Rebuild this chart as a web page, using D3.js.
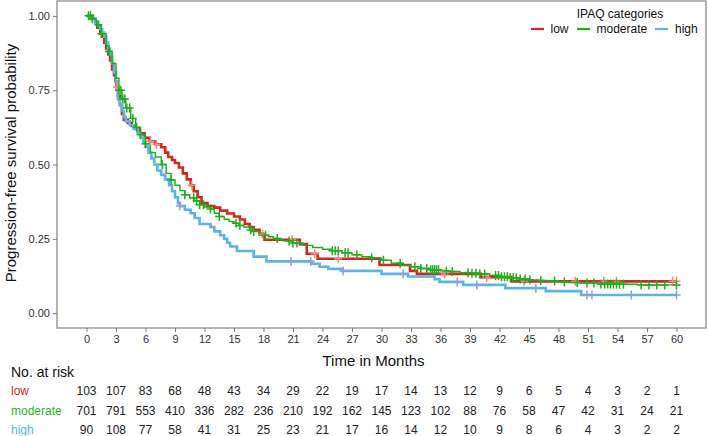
<!DOCTYPE html>
<html>
<head>
<meta charset="utf-8">
<script src="https://cdn.jsdelivr.net/npm/d3@7"></script>
<style>
  html, body { margin: 0; padding: 0; background: #fff; }
  svg { display: block; font-family: "Liberation Sans", Arial, sans-serif; }
</style>
</head>
<body>
<svg id="chart" width="708" height="436"></svg>
<script>
// ---------------- data ----------------
const groups = ["low", "moderate", "high"];
const xTicks = [0,3,6,9,12,15,18,21,24,27,30,33,36,39,42,45,48,51,54,57,60];
const yTicks = [0, 0.25, 0.5, 0.75, 1.0];

// step points [time (months), survival after step]
const lowSteps = [[0,1],[0.6,0.99],[0.9,0.98],[1.1,0.96],[1.4,0.94],[1.6,0.93],[1.8,0.91],[2.0,0.89],[2.2,0.87],[2.4,0.85],[2.6,0.82],[2.8,0.80],[2.95,0.78],[3.05,0.76],[3.2,0.73],[3.4,0.70],[3.6,0.67],[3.8,0.65],[4.2,0.64],[4.6,0.63],[5.0,0.62],[5.4,0.605],[5.9,0.59],[6.4,0.578],[7.0,0.568],[7.6,0.558],[8.0,0.54],[8.3,0.525],[8.7,0.515],[9.0,0.505],[9.4,0.49],[9.8,0.47],[10.2,0.45],[10.6,0.43],[10.9,0.41],[11.3,0.39],[11.7,0.37],[12.3,0.36],[13.0,0.355],[13.6,0.345],[14.3,0.335],[15.0,0.325],[15.6,0.315],[16.1,0.30],[16.6,0.29],[17.0,0.28],[17.6,0.265],[18.1,0.247],[21.7,0.232],[22.4,0.20],[23.5,0.183],[29.8,0.162],[32.9,0.142],[33.6,0.132],[40.1,0.121],[43.2,0.107]];
const moderateSteps = [[0,1],[0.5,0.99],[1.0,0.97],[1.5,0.94],[2.0,0.90],[2.3,0.88],[2.6,0.84],[3.0,0.79],[3.3,0.75],[3.6,0.72],[4.0,0.69],[4.5,0.655],[5.0,0.625],[5.5,0.60],[6.0,0.57],[6.5,0.54],[7.0,0.525],[7.6,0.50],[8.1,0.47],[8.6,0.448],[9.0,0.43],[9.5,0.412],[10.0,0.398],[10.5,0.388],[11.0,0.378],[11.5,0.365],[12.0,0.357],[12.6,0.35],[13.0,0.336],[13.5,0.325],[14.0,0.316],[14.5,0.308],[15.0,0.302],[15.5,0.295],[16.0,0.29],[16.6,0.28],[17.0,0.275],[17.5,0.27],[18.0,0.262],[18.5,0.257],[19.0,0.251],[19.5,0.248],[20.0,0.243],[21.0,0.236],[22.0,0.228],[23.0,0.221],[24.0,0.215],[25.0,0.21],[26.0,0.203],[27.0,0.196],[28.0,0.19],[29.0,0.186],[30.0,0.178],[31.0,0.168],[32.0,0.161],[33.0,0.156],[34.0,0.15],[35.0,0.146],[36.0,0.142],[37.0,0.14],[38.0,0.136],[39.0,0.134],[40.0,0.132],[41.0,0.127],[42.0,0.122],[43.0,0.119],[44.0,0.115],[45.0,0.112],[46.0,0.11],[47.0,0.108],[48.0,0.105],[49.0,0.103],[50.0,0.101],[52.0,0.098],[54.0,0.097],[56.0,0.095]];
const highSteps = [[0,1],[0.5,0.99],[0.9,0.978],[1.2,0.967],[1.4,0.956],[1.6,0.944],[1.8,0.93],[2.0,0.91],[2.2,0.89],[2.4,0.87],[2.6,0.84],[2.8,0.81],[3.0,0.78],[3.1,0.75],[3.2,0.72],[3.4,0.70],[3.6,0.68],[3.8,0.66],[4.0,0.645],[4.4,0.632],[4.8,0.62],[5.2,0.607],[5.5,0.59],[5.8,0.572],[6.0,0.56],[6.3,0.54],[6.6,0.52],[6.9,0.50],[7.2,0.48],[7.6,0.465],[8.0,0.45],[8.4,0.43],[8.7,0.41],[9.0,0.39],[9.3,0.37],[9.5,0.36],[10.0,0.348],[10.6,0.336],[11.0,0.32],[11.5,0.30],[12.6,0.29],[13.0,0.275],[13.6,0.262],[14.0,0.25],[14.3,0.237],[14.6,0.224],[15.3,0.209],[17.0,0.19],[18.3,0.174],[22.9,0.166],[23.7,0.156],[24.6,0.149],[26.0,0.142],[30.0,0.132],[32.7,0.123],[35.4,0.114],[35.9,0.105],[38.3,0.095],[42.6,0.084],[46.7,0.074],[50.3,0.061]];

// censoring times (months)
const lowCensor = [3.1, 6.5, 7.1, 10.7, 17.9, 20.9, 23.2, 25.6, 36.4, 40.7, 44.5, 49.7, 52.6, 53.9, 59.6, 60];
const moderateCensor = [0.2, 0.4, 0.6, 1.2, 1.5, 2.3, 3.3, 3.5, 3.7, 3.9, 4.1, 4.4, 4.7, 5.1, 5.5, 6.0, 7.7, 8.6, 10.0, 10.9, 11.2, 11.5, 11.9, 12.6, 13.5, 15.2, 15.6, 16.7, 17.0, 18.2, 19.4, 20.6, 21.0, 21.4, 25.0, 25.3, 25.6, 26.3, 26.6, 27.5, 29.0, 30.2, 31.9, 33.4, 34.0, 34.6, 35.0, 35.2, 35.4, 35.6, 35.8, 36.6, 37.2, 38.8, 39.2, 39.6, 40.0, 40.5, 41.6, 41.9, 42.2, 42.5, 42.8, 43.1, 43.4, 43.7, 44.1, 44.6, 45.1, 46.2, 47.6, 48.6, 49.9, 50.9, 51.6, 52.3, 52.7, 53.0, 53.3, 53.6, 53.9, 54.2, 54.6, 56.4, 57.2, 58.0, 58.8, 60];
const highCensor = [9.5, 20.8, 22.8, 26.1, 32.2, 37.7, 39.7, 45.7, 50.9, 51.4, 55.4, 60];

// numbers at risk at each x tick
const riskLow = [103,107,83,68,48,43,34,29,22,19,17,14,13,12,9,6,5,4,3,2,1];
const riskModerate = [701,791,553,410,336,282,236,210,192,162,145,123,102,88,76,58,47,42,31,24,21];
const riskHigh = [90,108,77,58,41,31,25,23,21,17,16,14,12,10,9,8,6,4,3,2,2];

// ---------------- styles ----------------
const series = [
  { name: "low", steps: lowSteps, censor: lowCensor, risk: riskLow, color: "#cf2a1f", censorColor: "#f2877f", width: 2.6, label: "#e3231c" },
  { name: "high", steps: highSteps, censor: highCensor, risk: riskHigh, color: "#5db3e3", censorColor: "#8e9fe0", width: 2.6, label: "#4fb3e8" },
  { name: "moderate", steps: moderateSteps, censor: moderateCensor, risk: riskModerate, color: "#1eae1e", censorColor: "#1eae1e", width: 1.4, label: "#22bb22" }
];
const byName = Object.fromEntries(series.map(s => [s.name, s]));

const svg = d3.select("#chart");
const panel = { left: 57, right: 706, top: 1, bottom: 328 };
const x = d3.scaleLinear().domain([-3, 63]).range([panel.left, panel.right]);
const y = d3.scaleLinear().domain([-0.05, 1.05]).range([panel.bottom, panel.top]);

// survival lookup at a time
function survAt(steps, t) {
  let s = steps[0][1];
  for (const p of steps) { if (p[0] <= t) s = p[1]; else break; }
  return s;
}

// curves
const line = d3.line().x(d => x(d[0])).y(d => y(d[1])).curve(d3.curveStepAfter);
series.forEach(s => {
  const pts = s.steps.concat([[60, s.steps[s.steps.length - 1][1]]]);
  svg.append("path").attr("d", line(pts)).attr("fill", "none")
    .attr("stroke", s.color).attr("stroke-width", s.width);
});
// censor marks
series.forEach(s => {
  const g = svg.append("g");
  s.censor.forEach(t => {
    const cx = x(t), cy = y(survAt(s.steps, t));
    g.append("path").attr("d", `M${cx-4},${cy}H${cx+4}M${cx},${cy-4.5}V${cy+4.5}`)
      .attr("stroke", s.censorColor).attr("stroke-width", 1.5).attr("fill", "none");
  });
});

// panel frame
svg.append("rect").attr("x", panel.left).attr("y", panel.top)
  .attr("width", panel.right - panel.left).attr("height", panel.bottom - panel.top)
  .attr("fill", "none").attr("stroke", "#8c8c8c").attr("stroke-width", 1.3);

// axes
const xAxis = svg.append("g").attr("transform", `translate(0,${panel.bottom})`)
  .call(d3.axisBottom(x).tickValues(xTicks).tickSize(4).tickPadding(3));
const yAxis = svg.append("g").attr("transform", `translate(${panel.left},0)`)
  .call(d3.axisLeft(y).tickValues(yTicks).tickFormat(d3.format(".2f")).tickSize(4).tickPadding(3));
[xAxis, yAxis].forEach(a => {
  a.select(".domain").remove();
  a.selectAll(".tick line").attr("stroke", "#7a7a7a");
  a.selectAll(".tick text").attr("fill", "#333").style("font-size", "11px")
    .style("font-family", "'Liberation Sans', Arial, sans-serif");
});

// axis titles
svg.append("text").attr("x", 373.5).attr("y", 366).attr("text-anchor", "middle")
  .style("font-size", "15px").attr("fill", "#111").text("Time in Months");
svg.append("text").attr("transform", "translate(16,163) rotate(-90)").attr("text-anchor", "middle")
  .style("font-size", "15px").attr("fill", "#111").text("Progression-free survival probability");

// legend
svg.append("text").attr("x", 620).attr("y", 18).attr("text-anchor", "middle")
  .style("font-size", "12px").attr("fill", "#111").text("IPAQ categories");
const legendItems = [
  { name: "low", x0: 531, tx: 550.5 },
  { name: "moderate", x0: 577, tx: 596.5 },
  { name: "high", x0: 655, tx: 675 }
];
legendItems.forEach(li => {
  const s = byName[li.name];
  svg.append("line").attr("x1", li.x0).attr("x2", li.x0 + 13).attr("y1", 29).attr("y2", 29)
    .attr("stroke", s.color).attr("stroke-width", 2.2);
  svg.append("text").attr("x", li.tx).attr("y", 33.2).style("font-size", "12px")
    .attr("fill", "#111").text(li.name);
});

// risk table
svg.append("text").attr("x", 11).attr("y", 376.5).style("font-size", "14px")
  .attr("fill", "#111").text("No. at risk");
const rowY = { low: 395.3, moderate: 414.5, high: 433.5 };
groups.forEach(gname => {
  const s = byName[gname];
  svg.append("text").attr("x", 11).attr("y", rowY[gname]).style("font-size", "12px")
    .attr("fill", s.label).text(gname);
  svg.append("g").selectAll("text").data(s.risk).join("text")
    .attr("x", (d, i) => x(xTicks[i])).attr("y", rowY[gname]).attr("text-anchor", "middle")
    .style("font-size", "12px").attr("fill", "#222").text(d => d);
});
</script>
</body>
</html>
